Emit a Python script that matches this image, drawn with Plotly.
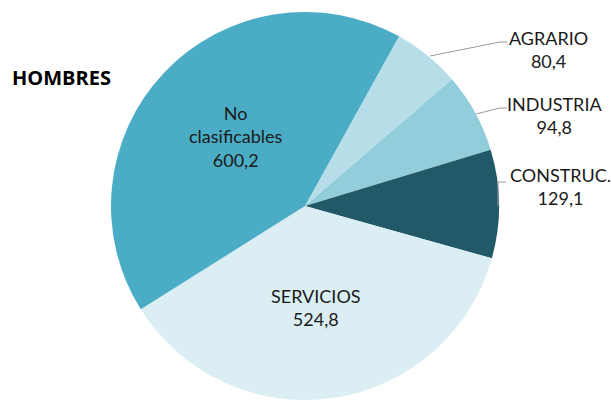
import plotly.graph_objects as go

labels = ["AGRARIO", "INDUSTRIA", "CONSTRUC.", "SERVICIOS", "No clasificables"]
values = [80.4, 94.8, 129.1, 524.8, 600.2]
colors = ["#B7DEE8", "#92CDDC", "#215968", "#DAEEF3", "#4BACC6"]

W, H = 612, 401


def fmt(v):
    return f"{v:.1f}".replace(".", ",")


fig = go.Figure(go.Pie(
    labels=labels,
    values=values,
    marker=dict(colors=colors, line=dict(width=0)),
    sort=False,
    direction="clockwise",
    rotation=29,
    textinfo="none",
    hoverinfo="label+value",
    showlegend=False,
    domain=dict(x=[110 / W, 500 / W], y=[1 / H, 389 / H]),
))

font = dict(family="Lato, Open Sans, sans-serif", size=18, color="#1a1a1a")

# etiquetas exteriores (centro del bloque de texto)
outer = [
    (labels[0], values[0], 548, 49),
    (labels[1], values[1], 554, 115),
    (labels[2], values[2], 560, 187),
]
for name, v, x, y in outer:
    fig.add_annotation(x=x / W, y=1 - y / H, xref="paper", yref="paper",
                       text=f"{name}<br>{fmt(v)}", showarrow=False,
                       font=font, xanchor="center", yanchor="middle", align="center")

# etiquetas interiores
fig.add_annotation(x=236 / W, y=1 - 137 / H, xref="paper", yref="paper",
                   text=f"No<br>clasificables<br>{fmt(values[4])}",
                   showarrow=False, font=font, xanchor="center", yanchor="middle", align="center")
fig.add_annotation(x=316 / W, y=1 - 307 / H, xref="paper", yref="paper",
                   text=f"{labels[3]}<br>{fmt(values[3])}",
                   showarrow=False, font=font, xanchor="center", yanchor="middle", align="center")

# líneas guía
def px(x, y):
    return f"{x / W},{1 - y / H}"

for pts in [[(430, 56), (500, 42), (507, 42)],
            [(476, 114), (500, 108), (507, 108)],
            [(498, 206), (498, 182), (506, 182)]]:
    path = "M " + " L ".join(px(*p) for p in pts)
    fig.add_shape(type="path", path=path, xref="paper", yref="paper",
                  line=dict(color="#9a9a9a", width=1))

fig.add_annotation(x=10 / W, y=1 - 77 / H, xref="paper", yref="paper",
                   text="<b>HOMBRES</b>", showarrow=False,
                   xanchor="left", yanchor="middle",
                   font=dict(family="Open Sans, sans-serif", size=20, color="#000000"))

fig.update_layout(
    width=W, height=H,
    margin=dict(l=0, r=0, t=0, b=0),
    paper_bgcolor="white", plot_bgcolor="white",
)

fig.write_html("out.html", include_plotlyjs=True, full_html=True,
               config={"displayModeBar": False},
               post_script="document.body.style.margin='0';")
